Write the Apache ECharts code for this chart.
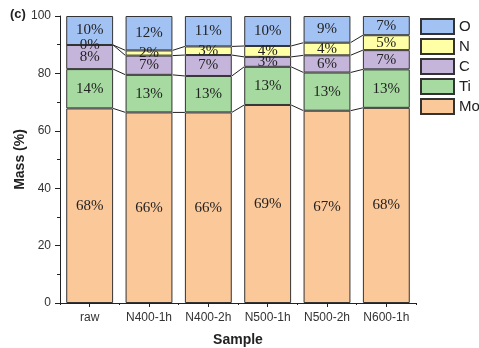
<!DOCTYPE html>
<html>
<head>
<meta charset="utf-8">
<script src="https://cdn.jsdelivr.net/npm/echarts@6/dist/echarts.min.js"></script>
<style>
  html, body { margin: 0; padding: 0; background: #fff; }
  #chart { width: 479px; height: 348px; }
</style>
</head>
<body>
<div id="chart"></div>
<script>
// Sample names along the x axis
const samples = ['raw', 'N400-1h', 'N400-2h', 'N500-1h', 'N500-2h', 'N600-1h'];

// Mass fraction (%) of each element per sample, stacked bottom to top
const mo = [67.8, 66.4, 66.4, 69.0, 67.0, 68.0];
const ti = [13.7, 13.1, 12.7, 13.3, 13.3, 13.4];
const c  = [8.4, 6.7, 7.3, 3.45, 6.0, 6.7];
const n  = [0.0, 1.8, 3.0, 3.8, 4.4, 5.2];
const o  = [10.1, 12.0, 10.6, 10.45, 9.3, 6.7];

const elementNames = ['Mo', 'Ti', 'C', 'N', 'O'];
const elementValues = [mo, ti, c, n, o];
const elementColors = ['#FBC899', '#A6DAA0', '#C5B5DB', '#FFFFA6', '#A3C2F4'];
const legendOrder = ['O', 'N', 'C', 'Ti', 'Mo'];

const yTicks = [0, 20, 40, 60, 80, 100];
const BAR_RATIO = 0.79;

// Cumulative heights of every boundary between stacked segments
function cumulative(level) {
  return samples.map((_, i) => {
    let s = 0;
    for (let k = 0; k < level; k++) s += elementValues[k][i];
    return s;
  });
}

// Connector data: [sample index, boundary height here, boundary height at next sample]
const connectorData = [];
for (let level = 1; level < elementValues.length; level++) {
  const cum = cumulative(level);
  for (let i = 0; i < samples.length - 1; i++) {
    connectorData.push([i, cum[i], cum[i + 1]]);
  }
}

const barSeries = elementNames.map((name, k) => ({
  name: name,
  type: 'bar',
  stack: 'mass',
  barWidth: (BAR_RATIO * 100) + '%',
  data: elementValues[k],
  itemStyle: { color: elementColors[k], borderColor: '#333', borderWidth: 1 },
  label: {
    show: true,
    position: 'inside',
    formatter: p => Math.round(p.value) + '%',
    fontFamily: 'Liberation Serif',
    fontSize: 15,
    color: '#222'
  },
  emphasis: { disabled: true },
  z: 2
}));

const connectorSeries = {
  type: 'custom',
  name: 'connector',
  data: connectorData,
  encode: { x: 0, y: 1 },
  z: 3,
  silent: true,
  renderItem: function (params, api) {
    const i = api.value(0);
    const half = api.size([1, 0])[0] * BAR_RATIO / 2;
    const p1 = api.coord([i, api.value(1)]);
    const p2 = api.coord([i + 1, api.value(2)]);
    return {
      type: 'line',
      shape: { x1: p1[0] + half, y1: p1[1], x2: p2[0] - half, y2: p2[1] },
      style: { stroke: '#222', lineWidth: 1 }
    };
  }
};

const chart = echarts.init(document.getElementById('chart'), null, { renderer: 'canvas' });
chart.setOption({
  animation: false,
  backgroundColor: '#fff',
  grid: { left: 60, right: 63, top: 16, bottom: 45, containLabel: false, outerBoundsMode: 'none' },
  title: {
    text: '(c)',
    left: 10, top: 8, padding: 0,
    textStyle: { fontFamily: 'Arial', fontWeight: 'bold', fontSize: 13, color: '#222' }
  },
  legend: {
    data: legendOrder,
    orient: 'vertical',
    left: 420, top: 18, padding: 0,
    itemWidth: 33, itemHeight: 15, itemGap: 3,
    icon: 'rect',
    textStyle: { fontFamily: 'Arial', fontSize: 15, color: '#222' },
    selectedMode: false
  },
  xAxis: [{
    type: 'category',
    data: samples,
    name: 'Sample',
    nameLocation: 'middle',
    nameGap: 30,
    nameMoveOverlap: false,
    nameTextStyle: { fontFamily: 'Arial', fontWeight: 'bold', fontSize: 14, color: '#222' },
    axisLine: { lineStyle: { color: '#222', width: 1 } },
    axisTick: { show: true, alignWithLabel: true, length: 4, lineStyle: { color: '#222' } },
    axisLabel: { interval: 0, fontFamily: 'Arial', fontSize: 12, color: '#333', margin: 9 }
  }, {
    // short ticks on the boundaries between samples
    type: 'category',
    data: samples,
    position: 'bottom',
    axisLine: { show: false },
    axisTick: { show: true, interval: 0, length: 2, lineStyle: { color: '#222' } },
    axisLabel: { show: false }
  }],
  yAxis: {
    type: 'value',
    min: 0, max: 100, interval: 20,
    name: 'Mass (%)',
    nameLocation: 'middle',
    nameGap: 33,
    nameMoveOverlap: false,
    nameTextStyle: { fontFamily: 'Arial', fontWeight: 'bold', fontSize: 14, color: '#222' },
    axisLine: { show: true, lineStyle: { color: '#222', width: 1 } },
    axisTick: { show: true, length: 5, lineStyle: { color: '#222' } },
    minorTick: { show: true, splitNumber: 2, length: 3, lineStyle: { color: '#222' } },
    splitLine: { show: false },
    axisLabel: {
      fontFamily: 'Arial', fontSize: 12, color: '#333', margin: 9,
      formatter: v => (yTicks.indexOf(v) >= 0 ? String(v) : '')
    }
  },
  series: barSeries.concat([connectorSeries])
});
</script>
</body>
</html>
